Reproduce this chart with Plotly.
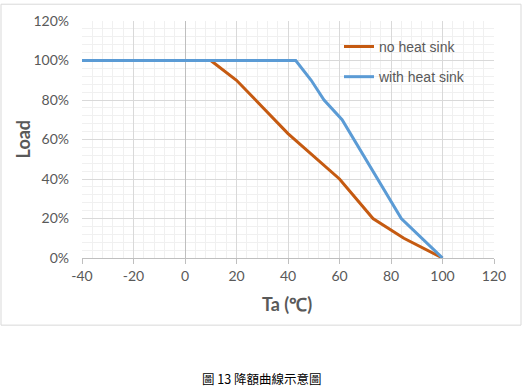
import plotly.graph_objects as go

# Data
no_sink_ta = [10, 20, 40, 60, 73, 85, 100]
no_sink_load = [100, 90, 63, 40, 20, 10, 0]
sink_ta = [-40, 43, 49, 54, 61, 84, 100]
sink_load = [100, 100, 90, 80, 70, 20, 0]

x_ticks = [-40, -20, 0, 20, 40, 60, 80, 100, 120]
y_ticks = [0, 20, 40, 60, 80, 100, 120]

W, H = 523, 389
L, R, T, B = 82, 494, 18, 258
pw, ph = R - L, B - T

def px(xp):
    return (xp - L) / pw

def py(yp):
    return (B - yp) / ph

fig = go.Figure()
fig.add_trace(go.Scatter(x=no_sink_ta, y=no_sink_load, mode="lines", name="no heat sink",
                         line=dict(color="#C55A11", width=3), legendgroup="a"))
fig.add_trace(go.Scatter(x=sink_ta, y=sink_load, mode="lines", name="with heat sink",
                         line=dict(color="#5B9BD5", width=3), legendgroup="b"))

tick_font = dict(family="Lato, Open Sans, sans-serif", size=14, color="#595959")

fig.update_xaxes(range=[-40, 120], tickvals=x_ticks, ticktext=[str(v) for v in x_ticks],
                 showgrid=True, gridcolor="#D9D9D9", gridwidth=1,
                 minor=dict(dtick=4, showgrid=True, gridcolor="#F0F0F0", gridwidth=1),
                 showline=True, linecolor="#BFBFBF", linewidth=1,
                 ticks="outside", ticklen=5, tickcolor="#BFBFBF",
                 zeroline=True, zerolinecolor="#BFBFBF", zerolinewidth=1,
                 tickfont=tick_font, fixedrange=True)
fig.update_yaxes(range=[0, 120], tickvals=y_ticks, ticktext=[f"{v}%" for v in y_ticks],
                 showgrid=True, gridcolor="#D9D9D9", gridwidth=1,
                 minor=dict(dtick=4, showgrid=True, gridcolor="#F0F0F0", gridwidth=1),
                 showline=False, zeroline=False, ticks="", ticklabelstandoff=12,
                 tickfont=tick_font, fixedrange=True)

fig.add_shape(type="rect", xref="paper", yref="paper",
              x0=px(1), x1=px(521), y0=py(326), y1=py(1),
              line=dict(color="#D9D9D9", width=1), layer="below")

fig.add_annotation(text="<b>Load</b>", xref="paper", yref="paper", x=px(22), y=py(138),
                   xanchor="center", yanchor="middle",
                   textangle=-90, showarrow=False,
                   font=dict(family="Lato, Open Sans, sans-serif", size=18, color="#595959"))
fig.add_annotation(text="<b>Ta (℃)</b>", xref="paper", yref="paper", x=px(287), y=py(305),
                   xanchor="center", yanchor="middle", showarrow=False,
                   font=dict(family="Lato, Open Sans, sans-serif", size=18, color="#595959"))
fig.add_annotation(text="圖 13 降額曲線示意圖", xref="paper", yref="paper", x=px(261), y=py(380),
                   xanchor="center", yanchor="middle", showarrow=False,
                   font=dict(family="Noto Sans CJK TC, sans-serif", size=12.5, color="#000000"))

fig.update_layout(
    width=W, height=H,
    margin=dict(l=L, r=W - R, t=T, b=H - B),
    paper_bgcolor="white", plot_bgcolor="white",
    showlegend=True,
    legend=dict(x=px(339), y=py(28), xanchor="left", yanchor="top",
                bgcolor="rgba(0,0,0,0)", tracegroupgap=9, itemwidth=30,
                font=dict(family="Liberation Sans, Arial, sans-serif", size=14, color="#595959")),
)

fig.write_html("out.html", config={"displayModeBar": False},
               post_script="document.body.style.margin='0px';")
